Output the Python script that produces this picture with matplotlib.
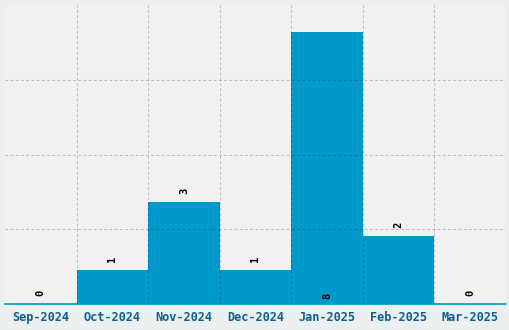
import numpy as np
import matplotlib.pyplot as plt
from matplotlib.ticker import FixedLocator, NullFormatter

# Datos
months = ["Sep-2024", "Oct-2024", "Nov-2024", "Dec-2024", "Jan-2025", "Feb-2025", "Mar-2025"]
counts = [0, 1, 3, 1, 8, 2, 0]

BAR_COLOR = "#0099cc"
TEXT_COLOR = "#0f5f8f"
FONT = "DejaVu Sans Mono"

fig = plt.figure(figsize=(5.1, 3.3), dpi=100, facecolor="#eceff0")
ax = fig.add_axes([5 / 510, 26 / 330, 501 / 510, 299 / 330])
ax.set_facecolor("#f1f1f1")

x = np.arange(len(months))
ymax = max(counts) * 1.1
ax.bar(x, counts, width=1.0, color=BAR_COLOR, zorder=1)

ax.set_xlim(-0.5, len(months) - 0.5)
ax.set_ylim(0, ymax)

# Rejilla punteada sobre las barras
ax.yaxis.set_major_locator(FixedLocator(np.linspace(0, ymax, 5)[1:-1]))
ax.yaxis.set_major_formatter(NullFormatter())
ax.xaxis.set_minor_locator(FixedLocator(x[:-1] + 0.5))
ax.grid(True, axis="y", which="major", color="black", alpha=0.22,
        linestyle=(0, (2.5, 2.5)), linewidth=0.75, zorder=3)
ax.grid(True, axis="x", which="minor", color="black", alpha=0.22,
        linestyle=(0, (2.5, 2.5)), linewidth=0.75, zorder=3)
ax.set_axisbelow(False)

ax.set_xticks(x)
ax.set_xticklabels(months, fontfamily=FONT, fontweight="bold",
                   fontsize=8.6, color=TEXT_COLOR)
ax.tick_params(axis="both", which="both", length=0, pad=5)

for side in ["top", "right", "left"]:
    ax.spines[side].set_visible(False)
ax.spines["bottom"].set_color(BAR_COLOR)
ax.spines["bottom"].set_linewidth(1.2)

# Etiquetas de valor (giradas); si no caben arriba, van dentro abajo
unit = 299 / ymax
for xi, c in zip(x, counts):
    top_px = c * unit
    if top_px + 30 > 299:
        y = 8 / unit
    else:
        y = c + 11 / unit
    ax.text(xi, y, str(c), rotation=90, ha="center", va="center",
            fontfamily=FONT, fontweight="bold", fontsize=7.5, color="black",
            zorder=4)

fig.savefig("out.png", dpi=100, facecolor=fig.get_facecolor())
